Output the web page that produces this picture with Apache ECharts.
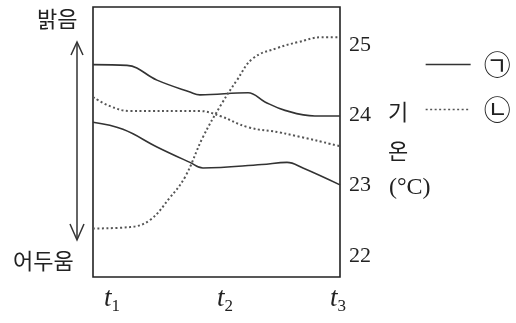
<!DOCTYPE html>
<html>
<head>
<meta charset="utf-8">
<script src="https://cdn.jsdelivr.net/npm/echarts@6/dist/echarts.min.js"></script>
<style>
  html, body { margin: 0; padding: 0; background: #fff; }
  #chart { width: 516px; height: 323px; }
</style>
</head>
<body>
<div id="chart"></div>
<script>
// time in units of t (t1=1, t2=2, t3=3), value in °C on the right axis
const timeTicks = [1, 2, 3];
const tempTicks = [22, 23, 24, 25];

const solidUpper = [
  [0.832, 24.72], [1.133, 24.71], [1.398, 24.5], [1.69, 24.33], [1.779, 24.29],
  [2.204, 24.32], [2.354, 24.19], [2.531, 24.07], [2.796, 23.99], [3.018, 23.99]
];
const solidLower = [
  [0.832, 23.9], [1.097, 23.8], [1.398, 23.55], [1.69, 23.33], [1.805, 23.25],
  [2.327, 23.3], [2.549, 23.33], [2.69, 23.25], [3.018, 23.01]
];
const dottedFlat = [
  [0.832, 24.26], [0.982, 24.13], [1.159, 24.06], [1.779, 24.06], [1.956, 23.99],
  [2.204, 23.83], [2.504, 23.75], [3.018, 23.56]
];
const dottedRise = [
  [0.832, 22.39], [1.159, 22.41], [1.336, 22.51], [1.513, 22.83], [1.646, 23.12],
  [1.805, 23.69], [1.973, 24.17], [2.106, 24.5], [2.248, 24.81], [2.469, 24.96],
  [2.646, 25.04], [2.858, 25.11], [3.018, 25.11]
];

const KR = '"Noto Sans CJK KR", sans-serif';
const SERIF = '"Liberation Serif", "DejaVu Serif", serif';

const chart = echarts.init(document.getElementById("chart"));

const solidStyle = { color: "#333", width: 1.6, type: "solid" };
const dotStyle = { color: "#555", width: 2, type: [2, 2.5] };

const makeLine = (name, data, style) => ({
  name: name,
  type: "line",
  data: data,
  symbol: "none",
  smooth: 0.4,
  silent: true,
  itemStyle: { color: style.color },
  lineStyle: style,
});

let option = {
  backgroundColor: "#fff",
  animation: false,
  grid: {
    left: 93, top: 7, right: 176, bottom: 46,
    show: true, borderColor: "#222", borderWidth: 1.6,
  },
  legend: {
    orient: "vertical",
    left: 425, top: 51,
    padding: 0,
    itemWidth: 45, itemHeight: 26, itemGap: 18,
    selectedMode: false,
    data: ["㉠", "㉡"],
    itemStyle: { color: "transparent", borderWidth: 0, opacity: 0 },
    lineStyle: { width: 1.3 },
    textStyle: { fontFamily: KR, fontSize: 27, color: "#222", padding: [0, 0, 0, 8] },
  },
  xAxis: {
    type: "value",
    min: 0.832, max: 3.018,
    axisLine: { show: false },
    axisTick: { show: false },
    splitLine: { show: false },
    axisLabel: {
      customValues: timeTicks,
      margin: 8,
      formatter: (v) => "{t|t}{s|" + v + "}",
      rich: {
        t: { fontFamily: SERIF, fontStyle: "italic", fontSize: 27, color: "#222", verticalAlign: "top", lineHeight: 30 },
        s: { fontFamily: SERIF, fontSize: 17, color: "#222", verticalAlign: "bottom", lineHeight: 16, padding: [14, 0, 0, 0] },
      },
    },
  },
  yAxis: {
    type: "value",
    position: "right",
    min: 21.7, max: 25.54,
    axisLine: { show: false },
    axisTick: { show: false },
    splitLine: { show: false },
    axisLabel: {
      customValues: tempTicks,
      margin: 9,
      fontFamily: SERIF, fontSize: 22, color: "#222",
    },
  },
  graphic: [
    // brightness arrow on the left
    { type: "line", shape: { x1: 77, y1: 43, x2: 77, y2: 239 }, style: { stroke: "#333", lineWidth: 1.5 } },
    { type: "polyline", shape: { points: [[71, 55], [77, 42], [83, 55]] }, style: { stroke: "#333", lineWidth: 1.5, fill: null } },
    { type: "polyline", shape: { points: [[70, 224], [77, 240], [84, 224]] }, style: { stroke: "#333", lineWidth: 1.5, fill: null } },
    { type: "text", left: 37, top: 8, style: { text: "밝음", font: "22px " + KR, fill: "#222" } },
    { type: "text", left: 13, top: 250, style: { text: "어두움", font: "22px " + KR, fill: "#222" } },
    // right axis title
    { type: "text", left: 388, top: 101, style: { text: "기", font: "22px " + KR, fill: "#222" } },
    { type: "text", left: 388, top: 140, style: { text: "온", font: "22px " + KR, fill: "#222" } },
    { type: "text", left: 389, top: 176, style: { text: "(°C)", font: "24px " + SERIF, fill: "#222" } },
  ],
  series: [
    makeLine("㉠", solidUpper, solidStyle),
    makeLine("㉠", solidLower, solidStyle),
    makeLine("㉡", dottedFlat, dotStyle),
    makeLine("㉡", dottedRise, dotStyle),
  ],
};
chart.setOption(option, true);
</script>
</body>
</html>
